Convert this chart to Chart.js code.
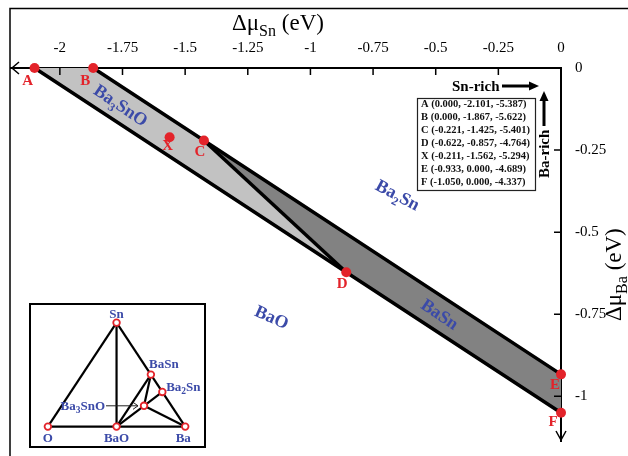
<!DOCTYPE html>
<html><head><meta charset="utf-8">
<script src="https://cdn.jsdelivr.net/npm/chart.js@4.4.0/dist/chart.umd.min.js"></script>
<style>
html,body{margin:0;padding:0;background:#fff;}
#wrap{position:relative;width:628px;height:456px;overflow:hidden;background:#fff;}
#main{position:absolute;left:0;top:0;}
#inset{position:absolute;left:29px;top:303px;}
</style></head><body>
<div id="wrap"><canvas id="main" width="628" height="456"></canvas><canvas id="inset" width="177" height="145"></canvas></div>
<script>
// ---------------- data ----------------
const pointNames = ['A','B','C','D','X','E','F'];
const dMuBa = [0.000, 0.000, -0.221, -0.622, -0.211, -0.933, -1.050];
const dMuSn = [-2.101, -1.867, -1.425, -0.857, -1.562, 0.000, 0.000];
const dMuO  = [-5.387, -5.622, -5.401, -4.764, -5.294, -4.689, -4.337];
const ba3snoRegion = ['A','B','C','D','A'];
const basnRegion = ['C','E','F','D','C'];
const boundaryLines = [['A','D','F'], ['B','C','E'], ['C','D']];
const xTicks = [-2, -1.75, -1.5, -1.25, -1, -0.75, -0.5, -0.25, 0];
const xTickLabels = ['-2','-1.75','-1.5','-1.25','-1','-0.75','-0.5','-0.25','0'];
const yTicks = [0, -0.25, -0.5, -0.75, -1];
const yTickLabels = ['0','-0.25','-0.5','-0.75','-1'];
const insetNames = ['O','BaO','Ba','Sn','BaSn','Ba2Sn','Ba3SnO'];
const insetX = [0, 0.5, 1, 0.5, 0.75, 0.8333, 0.7];
const insetY = [0, 0, 0, 1, 0.5, 0.3333, 0.2];
const insetEdges = [['O','Sn'],['Sn','Ba'],['O','Ba'],['Sn','BaO'],['BaO','BaSn'],['BaO','Ba3SnO'],['BaSn','Ba3SnO'],['Ba3SnO','Ba2Sn'],['Ba3SnO','Ba']];

// ---------------- styles ----------------
const SERIF = '"Liberation Serif","DejaVu Serif",serif';
const BLUE = '#3b4aa8', RED = '#e3232a';
const pointLabelOffsets = {A:[-7,12], B:[-8,12], C:[-4,10], D:[-4,11], X:[-2,8], E:[-6,10], F:[-8,8]};
const regionLabels = [
  {parts:[['Ba'],['3',1],['SnO']], x:-1.756, y:-0.113, rot:34},
  {parts:[['Ba'],['2',1],['Sn']], x:-0.651, y:-0.386, rot:28},
  {parts:[['BaO']], x:-1.154, y:-0.758, rot:24},
  {parts:[['BaSn']], x:-0.483, y:-0.749, rot:34}
];
const insetLabelStyle = {
  O:{dx:0,dy:11,align:'center'}, BaO:{dx:0,dy:11,align:'center'}, Ba:{dx:-2,dy:11,align:'center'},
  Sn:{dx:0,dy:-9,align:'center'}, BaSn:{dx:13,dy:-11,align:'center'}, Ba2Sn:{dx:21,dy:-5,align:'center'},
  Ba3SnO:{dx:-39,dy:0,align:'right'}
};

const xy = n => { const i = pointNames.indexOf(n); return {x: dMuSn[i], y: dMuBa[i]}; };
const subParts = s => s.split(/(\d)/).filter(t=>t).map(t => /\d/.test(t) ? [t,1] : [t]);

function drawRich(ctx, parts, x, y, o) {
  ctx.save();
  ctx.translate(x, y);
  ctx.rotate((o.rot || 0) * Math.PI / 180);
  ctx.fillStyle = o.color || '#000';
  ctx.textBaseline = 'alphabetic';
  ctx.textAlign = 'left';
  const fontOf = s => `${o.weight || ''} ${s}px ${SERIF}`;
  let w = 0;
  for (const [t, sub] of parts) { ctx.font = fontOf(sub ? o.sub : o.size); w += ctx.measureText(t).width; }
  let cx = o.align === 'center' ? -w / 2 : o.align === 'right' ? -w : 0;
  const by = o.vcenter ? o.size * 0.33 : 0;
  for (const [t, sub] of parts) {
    ctx.font = fontOf(sub ? o.sub : o.size);
    ctx.fillText(t, cx, by + (sub ? o.subShift : 0));
    cx += ctx.measureText(t).width;
  }
  ctx.restore();
}

function arrowHead(ctx, x, y, dir, len, half) {
  ctx.beginPath();
  if (dir === 'right') { ctx.moveTo(x, y); ctx.lineTo(x - len, y - half); ctx.lineTo(x - len, y + half); }
  if (dir === 'up') { ctx.moveTo(x, y); ctx.lineTo(x - half, y + len); ctx.lineTo(x + half, y + len); }
  ctx.closePath(); ctx.fill();
}

const decor = {
  id: 'decor',
  afterDraw(chart) {
    const ctx = chart.ctx, xs = chart.scales.x, ys = chart.scales.y, ca = chart.chartArea;
    ctx.save();
    // outer frame
    ctx.strokeStyle = '#000'; ctx.lineWidth = 1.5;
    ctx.strokeRect(10, 8.5, 800, 800);
    // inward tick marks
    ctx.lineWidth = 1.5;
    ctx.beginPath();
    xTicks.forEach(v => { const p = xs.getPixelForValue(v); ctx.moveTo(p, ca.top); ctx.lineTo(p, ca.top + 7); });
    yTicks.forEach(v => { const p = ys.getPixelForValue(v); ctx.moveTo(ca.right, p); ctx.lineTo(ca.right - 7, p); });
    ctx.stroke();
    // axis arrows
    ctx.lineWidth = 1.5;
    ctx.beginPath();
    ctx.moveTo(ca.left + 8, ca.top - 6); ctx.lineTo(ca.left + 1, ca.top); ctx.lineTo(ca.left + 8, ca.top + 6);
    ctx.moveTo(ca.right - 5, ca.bottom - 10); ctx.lineTo(ca.right, ca.bottom - 1); ctx.lineTo(ca.right + 5, ca.bottom - 10);
    ctx.stroke();
    // axis titles
    drawRich(ctx, [['Δμ'], ['Sn', 1], [' (eV)']], 232, 30, {size: 23, sub: 16, subShift: 6, color: '#000'});
    drawRich(ctx, [['Δμ'], ['Ba', 1], [' (eV)']], 621, 321, {size: 23, sub: 16, subShift: 6, color: '#000', rot: -90});
    // region labels
    regionLabels.forEach(r => drawRich(ctx, r.parts, xs.getPixelForValue(r.x), ys.getPixelForValue(r.y),
      {size: 18, sub: 12, subShift: 5, weight: 'bold', color: BLUE, rot: r.rot, align: 'center', vcenter: true}));
    // point labels
    pointNames.forEach((n, i) => {
      const o = pointLabelOffsets[n];
      drawRich(ctx, [[n]], xs.getPixelForValue(dMuSn[i]) + o[0], ys.getPixelForValue(dMuBa[i]) + o[1],
        {size: 15, weight: 'bold', color: RED, align: 'center', vcenter: true});
    });
    // coordinate legend box
    ctx.fillStyle = '#fff'; ctx.fillRect(417, 98, 118, 92);
    ctx.strokeStyle = '#222'; ctx.lineWidth = 1.2; ctx.strokeRect(417.5, 98.5, 118, 92);
    ctx.fillStyle = '#111'; ctx.font = `bold 10.5px ${SERIF}`; ctx.textBaseline = 'middle'; ctx.textAlign = 'left';
    pointNames.forEach((n, i) => {
      ctx.fillText(`${n} (${dMuBa[i].toFixed(3)}, ${dMuSn[i].toFixed(3)}, ${dMuO[i].toFixed(3)})`, 421, 104.5 + i * 13);
    });
    // Sn-rich / Ba-rich arrows
    ctx.fillStyle = '#000'; ctx.strokeStyle = '#000';
    drawRich(ctx, [['Sn-rich']], 452, 86, {size: 15, weight: 'bold', vcenter: true});
    ctx.lineWidth = 3; ctx.beginPath(); ctx.moveTo(502, 86); ctx.lineTo(530, 86); ctx.stroke();
    arrowHead(ctx, 539, 86, 'right', 10, 4.5);
    drawRich(ctx, [['Ba-rich']], 544, 178, {size: 15, weight: 'bold', vcenter: true, rot: -90});
    ctx.lineWidth = 3; ctx.beginPath(); ctx.moveTo(544, 126); ctx.lineTo(544, 100); ctx.stroke();
    arrowHead(ctx, 544, 91, 'up', 10, 4.5);
    ctx.restore();
  }
};

new Chart(document.getElementById('main'), {
  type: 'line',
  data: {
    datasets: [
      {data: pointNames.map(xy), showLine: false, pointRadius: 5, pointBackgroundColor: RED, pointBorderWidth: 0, order: 0, clip: false},
      ...boundaryLines.map(l => ({data: l.map(xy), showLine: true, borderColor: '#000', borderWidth: 3.5, pointRadius: 0, fill: false, order: 1, clip: false, borderCapStyle: 'butt'})),
      {data: ba3snoRegion.map(xy), showLine: true, fill: 'shape', backgroundColor: '#c2c2c2', borderColor: 'rgba(0,0,0,0)', borderWidth: 0, pointRadius: 0, order: 2},
      {data: basnRegion.map(xy), showLine: true, fill: 'shape', backgroundColor: '#828282', borderColor: 'rgba(0,0,0,0)', borderWidth: 0, pointRadius: 0, order: 2}
    ]
  },
  options: {
    responsive: false, animation: false, events: [], devicePixelRatio: 1,
    layout: {padding: {left: 11, top: 0, right: 0, bottom: 0}},
    plugins: {legend: {display: false}, tooltip: {enabled: false}},
    scales: {
      x: {
        type: 'linear', position: 'top', min: -2.195, max: 0,
        afterBuildTicks: s => { s.ticks = xTicks.map(v => ({value: v})); },
        afterFit: s => { s.height = 68; },
        grid: {display: false}, border: {display: true, color: '#000', width: 2},
        ticks: {callback: (v, i) => xTickLabels[i], font: {family: SERIF, size: 15}, color: '#000', padding: 3, maxRotation: 0, autoSkip: false}
      },
      y: {
        type: 'linear', position: 'right', min: -1.136, max: 0,
        afterBuildTicks: s => { s.ticks = yTicks.map(v => ({value: v})); },
        afterFit: s => { s.width = 67; },
        grid: {display: false}, border: {display: true, color: '#000', width: 2},
        ticks: {callback: (v, i) => yTickLabels[i], font: {family: SERIF, size: 15}, color: '#000', padding: 6, autoSkip: false}
      }
    }
  },
  plugins: [decor]
});

// ---------------- inset ternary diagram ----------------
const ixy = n => { const i = insetNames.indexOf(n); return {x: insetX[i], y: insetY[i]}; };
const insetDecor = {
  id: 'insetDecor',
  beforeDraw(chart) {
    const ctx = chart.ctx;
    ctx.save(); ctx.fillStyle = '#fff'; ctx.fillRect(0, 0, chart.width, chart.height); ctx.restore();
  },
  afterDraw(chart) {
    const ctx = chart.ctx, xs = chart.scales.x, ys = chart.scales.y;
    ctx.save();
    ctx.strokeStyle = '#000'; ctx.lineWidth = 2;
    ctx.strokeRect(1, 1, chart.width - 2, chart.height - 2);
    insetNames.forEach((n, i) => {
      const s = insetLabelStyle[n];
      const px = xs.getPixelForValue(insetX[i]), py = ys.getPixelForValue(insetY[i]);
      drawRich(ctx, subParts(n), px + s.dx, py + s.dy, {size: 13, sub: 9.5, subShift: 3, weight: 'bold', color: BLUE, align: s.align, vcenter: true});
    });
    // arrow from Ba3SnO label to its point
    const k = insetNames.indexOf('Ba3SnO');
    const px = xs.getPixelForValue(insetX[k]), py = ys.getPixelForValue(insetY[k]);
    ctx.strokeStyle = '#222'; ctx.lineWidth = 1;
    ctx.beginPath();
    ctx.moveTo(px - 38, py); ctx.lineTo(px - 6, py);
    ctx.moveTo(px - 11, py - 3.5); ctx.lineTo(px - 6, py); ctx.lineTo(px - 11, py + 3.5);
    ctx.stroke();
    ctx.restore();
  }
};

new Chart(document.getElementById('inset'), {
  type: 'line',
  data: {
    datasets: [
      {data: insetNames.map(ixy), showLine: false, pointRadius: 3.3, pointBorderWidth: 1.8, pointBorderColor: RED, pointBackgroundColor: '#fff', order: 0, clip: false},
      ...insetEdges.map(e => ({data: e.map(ixy), showLine: true, borderColor: '#000', borderWidth: 2.2, pointRadius: 0, fill: false, order: 1, clip: false}))
    ]
  },
  options: {
    responsive: false, animation: false, events: [], devicePixelRatio: 1,
    layout: {padding: 0},
    plugins: {legend: {display: false}, tooltip: {enabled: false}},
    scales: {
      x: {type: 'linear', display: false, min: -0.0952, max: 1.109},
      y: {type: 'linear', display: false, min: -0.150, max: 1.133}
    }
  },
  plugins: [insetDecor]
});
</script>
</body></html>
